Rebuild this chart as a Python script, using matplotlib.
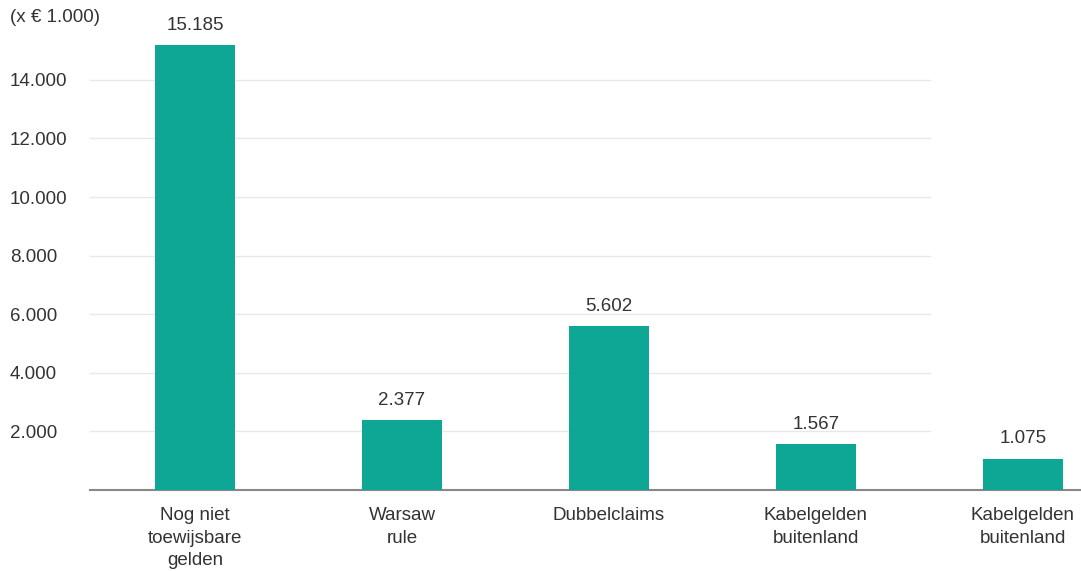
import matplotlib.pyplot as plt

plt.rcParams['font.family'] = ['Liberation Sans', 'DejaVu Sans']

categories = ['Nog niet\ntoewijsbare\ngelden', 'Warsaw\nrule', 'Dubbelclaims',
              'Kabelgelden\nbuitenland', 'Kabelgelden\nbuitenland']
values = [15185, 2377, 5602, 1567, 1075]
yticks = [2000, 4000, 6000, 8000, 10000, 12000, 14000]


def nl(v):
    # Dutch thousands separator
    return f'{v:,}'.replace(',', '.')


fig = plt.figure(figsize=(10.81, 5.71), dpi=100)
ax = fig.add_axes([90 / 1081, 81 / 571, 991 / 1081, 468.8 / 571])

txt = '#333333'
fs = 13.5
x = list(range(len(values)))
ax.bar(x, values, width=0.39, color='#0ea695', zorder=3)

for xi, v in zip(x, values):
    ax.annotate(nl(v), (xi, v), xytext=(0, 8), textcoords='offset points',
                ha='center', va='bottom', fontsize=fs, color=txt)

for t in yticks:
    ax.axhline(t, xmin=0, xmax=0.848, color='#e8e8e8', lw=1, zorder=1)

ax.set_xlim(-0.507, -0.507 + 991 / 207)
ax.set_ylim(0, 16000)

ax.set_yticks(yticks)
ax.set_yticklabels([nl(t) for t in yticks])
for lab in ax.get_yticklabels():
    lab.set_ha('left')
ax.tick_params(axis='y', length=0, pad=57.6, labelsize=fs, labelcolor=txt)

ax.set_xticks(x)
ax.set_xticklabels(categories, linespacing=1.45)
ax.tick_params(axis='x', length=0, pad=12, labelsize=fs, labelcolor=txt)

for s in ['top', 'right', 'left']:
    ax.spines[s].set_visible(False)
ax.spines['bottom'].set_color('#888888')
ax.spines['bottom'].set_linewidth(1.5)

fig.text(10 / 1081, 1 - 18 / 571, '(x \u20ac 1.000)', ha='left', va='center',
         fontsize=fs, color=txt)

fig.savefig('out.png', dpi=100)
